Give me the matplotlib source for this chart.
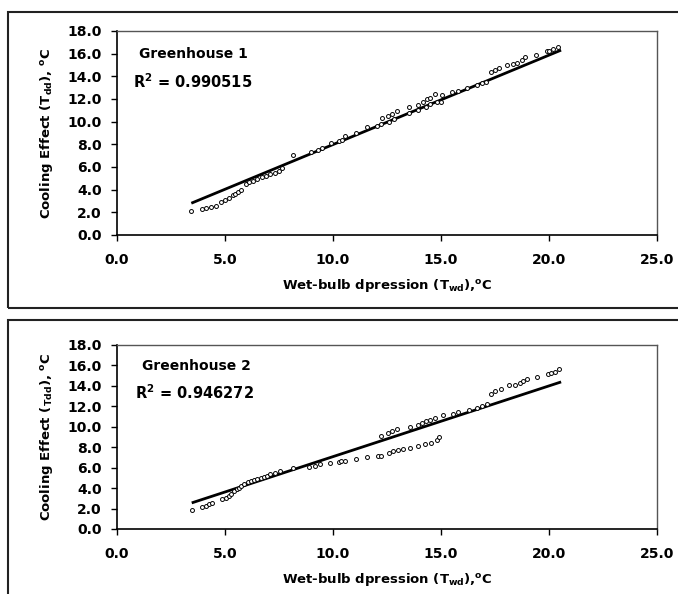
import matplotlib
matplotlib.use("Agg")
import matplotlib.pyplot as plt
from matplotlib.patches import Rectangle
import numpy as np

plt.rcParams['font.family'] = ['DejaVu Sans']
plt.rcParams['font.weight'] = 'bold'
plt.rcParams['mathtext.fontset'] = 'custom'
plt.rcParams['mathtext.rm'] = 'DejaVu Sans:bold'
plt.rcParams['mathtext.bf'] = 'DejaVu Sans:bold'
plt.rcParams['mathtext.it'] = 'DejaVu Sans:bold'

# Greenhouse 1 data
gh1_x = [3.41, 3.92, 4.13, 4.35, 4.57, 4.8, 5.0, 5.2, 5.35, 5.45, 5.6, 5.75, 5.95, 6.1, 6.3,
         6.5, 6.7, 6.9, 7.1, 7.3, 7.5, 7.65, 8.17, 9.0, 9.3, 9.5, 9.9, 10.3, 10.4, 10.56,
         11.07, 11.58, 12.06, 12.2, 12.25, 12.55, 12.75, 12.95, 12.6, 12.83, 13.5, 13.5,
         13.95, 13.95, 14.16, 14.33, 14.5, 14.7, 14.3, 14.5, 14.8, 15.0, 15.05, 15.5, 15.8,
         16.2, 16.66, 16.9, 17.1, 17.3, 17.5, 17.7, 18.07, 18.35, 18.5, 18.76, 18.9, 19.4,
         19.9, 20.0, 20.2, 20.4]
gh1_y = [2.15, 2.32, 2.4, 2.5, 2.6, 2.95, 3.1, 3.3, 3.5, 3.6, 3.8, 3.95, 4.5, 4.65, 4.8,
         4.95, 5.1, 5.2, 5.35, 5.5, 5.65, 5.95, 7.06, 7.35, 7.5, 7.7, 8.1, 8.3, 8.35, 8.7,
         9.0, 9.5, 9.6, 9.8, 10.3, 10.5, 10.7, 10.9, 10.0, 10.2, 11.26, 10.8,
         11.0, 11.5, 11.75, 11.97, 12.1, 12.4, 11.26, 11.55, 11.75, 11.75, 12.35, 12.6, 12.7,
         13.0, 13.2, 13.4, 13.5, 14.35, 14.55, 14.7, 14.97, 15.06, 15.2, 15.4, 15.7, 15.9,
         16.2, 16.25, 16.4, 16.6]
gh1_fit_x = [3.5, 20.5]
gh1_slope, gh1_intercept = 0.789, 0.09
gh1_r2 = "0.990515"

# Greenhouse 2 data
gh2_x = [3.46, 3.95, 4.1, 4.26, 4.42, 4.85, 5.04, 5.2, 5.3, 5.43, 5.55, 5.66, 5.74, 5.9,
         6.05, 6.2, 6.35, 6.5, 6.65, 6.8, 6.95, 7.1, 7.3, 7.55, 8.14, 8.9, 9.15, 9.38,
         9.84, 10.3, 10.38, 10.54, 11.05, 11.57, 12.08, 12.23, 12.57, 12.8, 13.03, 13.23,
         13.57, 13.95, 14.26, 14.54, 14.82, 14.92, 12.23, 12.54, 12.74, 12.95, 13.57, 13.95,
         14.1, 14.3, 14.5, 14.7, 15.08, 15.54, 15.8, 16.28, 16.65, 16.92, 17.12, 17.3, 17.5,
         17.77, 18.15, 18.43, 18.65, 18.8, 19.0, 19.46, 19.95, 20.1, 20.26, 20.48]
gh2_y = [1.82, 2.15, 2.28, 2.44, 2.54, 2.93, 3.03, 3.19, 3.45, 3.68, 3.9, 4.0, 4.2, 4.4,
         4.55, 4.7, 4.8, 4.9, 5.0, 5.1, 5.2, 5.35, 5.5, 5.65, 5.93, 6.1, 6.2, 6.35,
         6.5, 6.6, 6.68, 6.7, 6.84, 7.04, 7.1, 7.16, 7.43, 7.6, 7.7, 7.83,
         7.93, 8.1, 8.27, 8.44, 8.7, 8.96, 9.05, 9.38, 9.6, 9.77, 9.97, 10.2,
         10.36, 10.52, 10.68, 10.9, 11.17, 11.24, 11.43, 11.66, 11.82, 11.99, 12.25, 13.22, 13.5,
         13.7, 14.04, 14.1, 14.33, 14.46, 14.72, 14.9, 15.15, 15.3, 15.4, 15.7]
gh2_fit_x = [3.52, 20.5]
gh2_slope, gh2_intercept = 0.692, 0.16
gh2_r2 = "0.946272"

x_ticks = [0, 5, 10, 15, 20, 25]
y_ticks = [0, 2, 4, 6, 8, 10, 12, 14, 16, 18]

W, H = 678, 594
fig = plt.figure(figsize=(W / 100, H / 100), dpi=100)

# panel frames
for (top, bottom) in [(12, 308), (320, 600)]:
    fig.patches.append(Rectangle((8 / W, 1 - bottom / H), (W + 10) / W, (bottom - top) / H,
                                 transform=fig.transFigure, fill=False,
                                 edgecolor='#222222', linewidth=1.5))

def make_axes(left, top, right, bottom):
    return fig.add_axes([left / W, 1 - bottom / H, (right - left) / W, (bottom - top) / H])

panels = [
    (make_axes(117, 31, 657, 235), gh1_x, gh1_y, gh1_fit_x, gh1_slope, gh1_intercept,
     "Greenhouse 1", gh1_r2, r'Cooling Effect (T$_{\mathbf{dd}}$), $^{\mathbf{o}}$C', (1.0, 16.0), (0.75, 13.5)),
    (make_axes(117, 345, 657, 529), gh2_x, gh2_y, gh2_fit_x, gh2_slope, gh2_intercept,
     "Greenhouse 2", gh2_r2, r'Cooling Effect ($_{\mathbf{Tdd}}$), $^{\mathbf{o}}$C', (1.15, 15.9), (0.83, 13.3)),
]

for ax, xs, ys, fx, m, b, name, r2, ylab, npos, rpos in panels:
    ax.scatter(xs, ys, s=8, facecolors='white', edgecolors='black', linewidths=0.7, zorder=3)
    fx = np.array(fx)
    ax.plot(fx, m * fx + b, color='black', linewidth=2.0, zorder=2)
    ax.set_xlim(0, 25)
    ax.set_ylim(0, 18)
    ax.set_xticks(x_ticks)
    ax.set_xticklabels([f"{v:.1f}" for v in x_ticks], fontsize=10, fontweight='bold')
    ax.set_yticks(y_ticks)
    ax.set_yticklabels([f"{v:.1f}" for v in y_ticks], fontsize=10, fontweight='bold')
    ax.tick_params(axis='both', direction='out', length=4, width=1, color='black')
    ax.tick_params(axis='y', pad=7)
    ax.tick_params(axis='x', pad=9)
    for s in ['left', 'bottom']:
        ax.spines[s].set_color('black')
        ax.spines[s].set_linewidth(1.2)
    for s in ['top', 'right']:
        ax.spines[s].set_color('#555555')
        ax.spines[s].set_linewidth(1.0)
    ax.set_xlabel(r'Wet-bulb dpression (T$_{\mathbf{wd}}$),$^{\mathbf{o}}$C', fontsize=9.5,
                  fontweight='bold', labelpad=7)
    ax.set_ylabel(ylab, fontsize=9.5, fontweight='bold', labelpad=9)
    ax.text(npos[0], npos[1], name, fontsize=10, fontweight='bold', va='center', ha='left')
    ax.text(rpos[0], rpos[1], r'R$^{\mathbf{2}}$ = ' + r2, fontsize=10.5, fontweight='bold',
            va='center', ha='left')

fig.savefig("out.png", dpi=100)
